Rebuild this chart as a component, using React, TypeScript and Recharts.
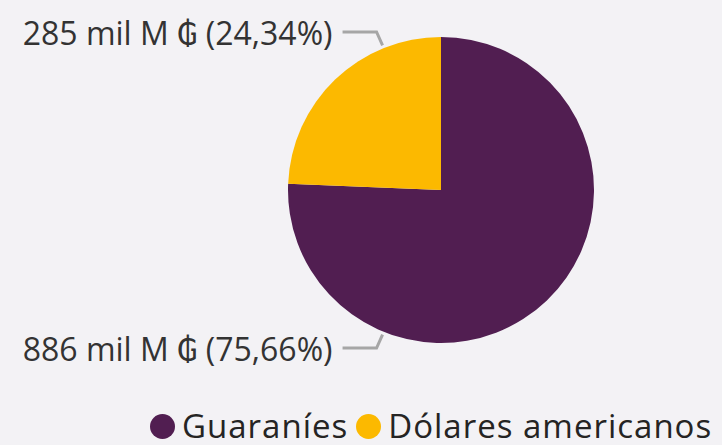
import { PieChart, Pie, Cell, Legend } from 'recharts';

const categorias = ['Guaraníes', 'Dólares americanos'];
const valores = [886, 285]; // mil M ₲
const CORES = ['#511E51', '#FCB900'];

const dados = categorias.map((nome, i) => ({ name: nome, value: valores[i] }));

const FONTE = '"Segoe UI", "Open Sans", "DejaVu Sans", sans-serif';

const formatPct = (p: number) => (p * 100).toFixed(2).replace('.', ',');

// rótulo estilo Power BI: sempre do lado esquerdo, acima ou abaixo da pizza
const renderLabel = (props: any) => {
  const { cx, cy, outerRadius, value, percent, index } = props;
  const sinal = index === 1 ? -1 : 1;
  const ang = (22 * Math.PI) / 180;
  const ax = cx - (outerRadius + 3) * Math.sin(ang);
  const ay = cy + sinal * (outerRadius + 3) * Math.cos(ang);
  const ly = cy + sinal * (outerRadius + 5);
  const ex = ax - 6;
  const hx = ax - 40;
  return (
    <g>
      <polyline
        points={`${ax},${ay} ${ex},${ly} ${hx},${ly}`}
        fill="none"
        stroke="#A6A6A6"
        strokeWidth={3}
      />
      <text
        x={hx - 10}
        y={ly}
        textAnchor="end"
        dominantBaseline="central"
        fill="#333333"
        fontSize={32}
        fontFamily={FONTE}
      >
        {`${value} mil M ₲ (${formatPct(percent)}%)`}
      </text>
    </g>
  );
};

// legenda na mesma ordem dos dados
const renderLegend = () => (
  <div style={{ display: 'flex', whiteSpace: 'nowrap', fontFamily: FONTE, fontSize: 33, lineHeight: '34px', letterSpacing: 1, color: '#252423' }}>
    {dados.map((item, i) => (
      <div key={`leg-${i}`} style={{ display: 'flex', alignItems: 'center', marginRight: 8 }}>
        <span
          style={{
            display: 'inline-block',
            width: 25,
            height: 25,
            borderRadius: '50%',
            background: CORES[i],
            marginRight: 7,
          }}
        />
        <span>{item.name}</span>
      </div>
    ))}
  </div>
);

export default function App() {
  return (
    <div style={{ position: 'fixed', left: 0, top: 0, width: 722, height: 445, background: '#F3F2F5', overflow: 'hidden' }}>
      <PieChart width={722} height={445} margin={{ top: 0, right: 0, bottom: 0, left: 0 }}>
        <Pie
          data={dados}
          dataKey="value"
          nameKey="name"
          cx={441}
          cy={190}
          outerRadius={153}
          startAngle={90}
          endAngle={-270}
          stroke="none"
          label={renderLabel}
          labelLine={false}
          isAnimationActive={false}
        >
          {dados.map((_, i) => (
            <Cell key={`cell-${i}`} fill={CORES[i]} />
          ))}
        </Pie>
        <Legend
          content={renderLegend}
          wrapperStyle={{ left: 150, top: 409, width: 'auto', bottom: 'auto' }}
        />
      </PieChart>
    </div>
  );
}
